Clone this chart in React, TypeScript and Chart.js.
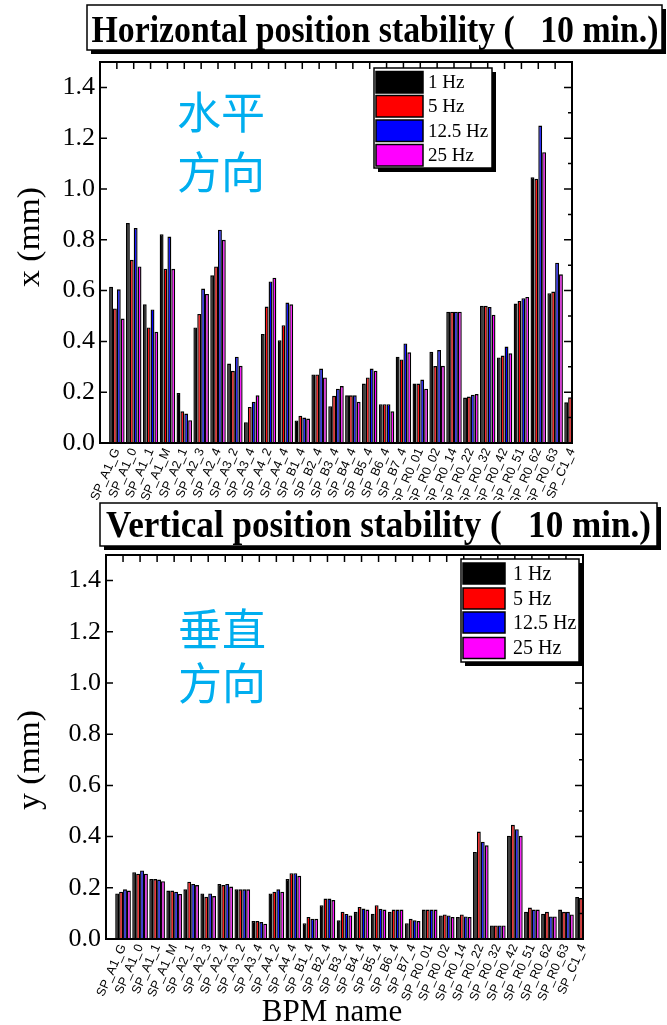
import React, { useEffect, useRef } from 'react';
import { Chart, registerables } from 'chart.js';

Chart.register(...registerables);

// ---------- data ----------
const bpmNames = [
  'SP_A1_G', 'SP_A1_0', 'SP_A1_1', 'SP_A1_M', 'SP_A2_1', 'SP_A2_3', 'SP_A2_4',
  'SP_A3_2', 'SP_A3_4', 'SP_A4_2', 'SP_A4_4', 'SP_B1_4', 'SP_B2_4', 'SP_B3_4',
  'SP_B4_4', 'SP_B5_4', 'SP_B6_4', 'SP_B7_4', 'SP_R0_01', 'SP_R0_02', 'SP_R0_14',
  'SP_R0_22', 'SP_R0_32', 'SP_R0_42', 'SP_R0_51', 'SP_R0_62', 'SP_R0_63', 'SP_C1_4',
];

const freqLabels = ['1 Hz', '5 Hz', '12.5 Hz', '25 Hz'];
const freqColors = ['#000000', '#ff0000', '#0000ff', '#ff00ff'];

// Horizontal (x, mm)
const horiz1Hz = [0.615, 0.866, 0.546, 0.822, 0.197, 0.455, 0.66, 0.313, 0.082, 0.429, 0.405, 0.089, 0.27, 0.145, 0.188, 0.234, 0.153, 0.34, 0.234, 0.359, 0.517, 0.179, 0.54, 0.337, 0.549, 1.046, 0.59, 0.16];
const horiz5Hz = [0.53, 0.721, 0.455, 0.686, 0.125, 0.508, 0.695, 0.284, 0.142, 0.537, 0.464, 0.107, 0.27, 0.186, 0.188, 0.258, 0.153, 0.329, 0.234, 0.303, 0.517, 0.183, 0.54, 0.344, 0.559, 1.04, 0.596, 0.18];
const horiz12Hz = [0.605, 0.846, 0.526, 0.813, 0.116, 0.608, 0.84, 0.34, 0.162, 0.636, 0.553, 0.1, 0.293, 0.214, 0.188, 0.293, 0.153, 0.392, 0.25, 0.366, 0.517, 0.19, 0.535, 0.38, 0.57, 1.25, 0.71, 0.17];
const horiz25Hz = [0.49, 0.695, 0.438, 0.686, 0.09, 0.587, 0.8, 0.304, 0.188, 0.651, 0.546, 0.096, 0.258, 0.224, 0.162, 0.284, 0.125, 0.357, 0.214, 0.304, 0.517, 0.193, 0.505, 0.353, 0.575, 1.145, 0.664, 0.165];

// Vertical (y, mm)
const vert1Hz = [0.178, 0.261, 0.234, 0.189, 0.194, 0.178, 0.215, 0.194, 0.07, 0.178, 0.234, 0.062, 0.132, 0.073, 0.106, 0.099, 0.106, 0.062, 0.115, 0.092, 0.086, 0.34, 0.053, 0.403, 0.106, 0.099, 0.115, 0.164];
const vert5Hz = [0.185, 0.255, 0.234, 0.189, 0.224, 0.165, 0.211, 0.194, 0.07, 0.185, 0.257, 0.086, 0.158, 0.106, 0.125, 0.132, 0.115, 0.079, 0.115, 0.096, 0.096, 0.42, 0.053, 0.446, 0.123, 0.106, 0.106, 0.16];
const vert12Hz = [0.194, 0.268, 0.232, 0.185, 0.215, 0.178, 0.215, 0.194, 0.066, 0.194, 0.257, 0.079, 0.158, 0.098, 0.119, 0.118, 0.115, 0.073, 0.115, 0.092, 0.088, 0.38, 0.053, 0.429, 0.115, 0.088, 0.106, 0.16];
const vert25Hz = [0.189, 0.255, 0.226, 0.176, 0.211, 0.168, 0.205, 0.194, 0.06, 0.185, 0.247, 0.079, 0.152, 0.092, 0.115, 0.115, 0.115, 0.07, 0.115, 0.086, 0.086, 0.366, 0.053, 0.403, 0.115, 0.088, 0.096, 0.16];

const yTickValues = [0, 0.2, 0.4, 0.6, 0.8, 1.0, 1.2, 1.4];
const yMinorValues = [0.1, 0.3, 0.5, 0.7, 0.9, 1.1, 1.3];

// ---------- layout / style config ----------
type Panel = {
  width: number;
  height: number;
  top: number;
  area: { left: number; right: number; top: number; bottom: number };
  series: number[][];
  title: string;
  titleBox: { x: number; y: number; w: number; h: number };
  titleText: { x: number; w: number; base: number };
  yTitle: string;
  yTitlePos: { x: number; y: number; len: number };
  cjk: string[];
  cjkPos: { x: number; ys: number[] };
  legend: { x: number; y: number; w: number; h: number; sx: number; sw: number; rows: number[]; rh: number; tx: number; font: number };
  xTitle?: { text: string; x: number; base: number };
};

const topPanel: Panel = {
  width: 667,
  height: 500,
  top: 0,
  area: { left: 100, right: 572, top: 62, bottom: 443 },
  series: [horiz1Hz, horiz5Hz, horiz12Hz, horiz25Hz],
  title: 'Horizontal position stability (   10 min.)',
  titleBox: { x: 87, y: 5, w: 575, h: 45 },
  titleText: { x: 91.5, w: 567, base: 42 },
  yTitle: 'x (mm)',
  yTitlePos: { x: 31, y: 237, len: 100 },
  cjk: ['水平', '方向'],
  cjkPos: { x: 177, ys: [112, 172] },
  legend: { x: 374, y: 68, w: 118, h: 100, sx: 376, sw: 47, rows: [71.5, 95.5, 120, 144.5], rh: 21.5, tx: 428, font: 19 },
};

const bottomPanel: Panel = {
  width: 667,
  height: 525,
  top: 500,
  area: { left: 106, right: 583, top: 55, bottom: 439 },
  series: [vert1Hz, vert5Hz, vert12Hz, vert25Hz],
  title: 'Vertical position stability (   10 min.)',
  titleBox: { x: 100, y: 3, w: 557, h: 43 },
  titleText: { x: 106, w: 545, base: 37 },
  yTitle: 'y (mm)',
  yTitlePos: { x: 31, y: 260, len: 100 },
  cjk: ['垂直', '方向'],
  cjkPos: { x: 178, ys: [129, 183] },
  legend: { x: 461, y: 59, w: 118, h: 103, sx: 463, sw: 42, rows: [63, 88, 112, 137.5], rh: 21, tx: 513, font: 20 },
  xTitle: { text: 'BPM name', x: 332, base: 521 },
};

const SERIF = '"Liberation Serif", "Times New Roman", serif';
const SANS = '"Liberation Sans", Arial, sans-serif';
const CJK = '"Noto Sans CJK SC", "Noto Sans CJK JP", sans-serif';

function drawShadowBox(ctx: CanvasRenderingContext2D, x: number, y: number, w: number, h: number, s: number) {
  ctx.fillStyle = '#000';
  ctx.fillRect(x + s, y + s, w, h);
  ctx.fillStyle = '#fff';
  ctx.fillRect(x, y, w, h);
  ctx.strokeStyle = '#000';
  ctx.lineWidth = 1.5;
  ctx.strokeRect(x, y, w, h);
}

function fitText(ctx: CanvasRenderingContext2D, text: string, x: number, y: number, targetW: number) {
  const m = ctx.measureText(text).width;
  const sx = targetW / m;
  ctx.save();
  ctx.translate(x, y);
  ctx.scale(sx, 1);
  ctx.fillText(text, 0, 0);
  ctx.restore();
}

function makeDecor(p: Panel) {
  return {
    id: 'decor',
    afterDatasetsDraw(chart: any) {
      const ctx: CanvasRenderingContext2D = chart.ctx;
      const a = chart.chartArea;
      const xs = chart.scales.x;
      const ys = chart.scales.y;
      ctx.save();
      // ticks (inward)
      ctx.strokeStyle = '#000';
      ctx.lineWidth = 1.5;
      ctx.beginPath();
      yTickValues.forEach((v) => {
        const y = ys.getPixelForValue(v);
        ctx.moveTo(a.left, y);
        ctx.lineTo(a.left + 7, y);
        ctx.moveTo(a.right, y);
        ctx.lineTo(a.right - 8, y);
      });
      yMinorValues.forEach((v) => {
        const y = ys.getPixelForValue(v);
        ctx.moveTo(a.right, y);
        ctx.lineTo(a.right - 4, y);
      });
      bpmNames.forEach((_, i) => {
        const x = xs.getPixelForValue(i + 1);
        if (x < a.right - 1) {
          ctx.moveTo(x, a.top);
          ctx.lineTo(x, a.top + 7);
        }
      });
      ctx.stroke();
      // frame
      ctx.lineWidth = 2;
      ctx.strokeRect(a.left, a.top, a.right - a.left, a.bottom - a.top);
      ctx.restore();
    },
    afterDraw(chart: any) {
      const ctx: CanvasRenderingContext2D = chart.ctx;
      ctx.save();
      // title box
      const tb = p.titleBox;
      drawShadowBox(ctx, tb.x, tb.y, tb.w, tb.h, 4);
      ctx.fillStyle = '#000';
      ctx.font = `bold 37px ${SERIF}`;
      ctx.textBaseline = 'alphabetic';
      ctx.textAlign = 'left';
      fitText(ctx, p.title, p.titleText.x, p.titleText.base, p.titleText.w);

      // y axis title
      ctx.save();
      ctx.translate(p.yTitlePos.x, p.yTitlePos.y);
      ctx.rotate(-Math.PI / 2);
      ctx.font = `32px ${SERIF}`;
      ctx.textBaseline = 'middle';
      fitText(ctx, p.yTitle, -p.yTitlePos.len / 2, 0, p.yTitlePos.len);
      ctx.restore();

      // CJK annotation
      ctx.fillStyle = '#00aeef';
      ctx.font = `44px ${CJK}`;
      ctx.textBaseline = 'middle';
      ctx.textAlign = 'left';
      p.cjk.forEach((line, i) => ctx.fillText(line, p.cjkPos.x, p.cjkPos.ys[i]));

      // legend
      const lg = p.legend;
      drawShadowBox(ctx, lg.x, lg.y, lg.w, lg.h, 4);
      freqLabels.forEach((lab, i) => {
        const ry = lg.rows[i];
        ctx.fillStyle = freqColors[i];
        ctx.fillRect(lg.sx, ry, lg.sw, lg.rh);
        ctx.strokeStyle = '#000';
        ctx.lineWidth = 1.5;
        ctx.strokeRect(lg.sx, ry, lg.sw, lg.rh);
        ctx.fillStyle = '#000';
        ctx.font = `${lg.font}px ${SERIF}`;
        ctx.textBaseline = 'middle';
        ctx.fillText(lab, lg.tx, ry + lg.rh / 2 + 1);
      });

      // x title
      if (p.xTitle) {
        ctx.fillStyle = '#000';
        ctx.font = `31px ${SERIF}`;
        ctx.textAlign = 'center';
        ctx.textBaseline = 'alphabetic';
        ctx.fillText(p.xTitle.text, p.xTitle.x, p.xTitle.base);
      }
      ctx.restore();
    },
  };
}

function PanelChart({ p }: { p: Panel }) {
  const ref = useRef<HTMLCanvasElement | null>(null);
  useEffect(() => {
    if (!ref.current) return;
    const a = p.area;
    const chart = new Chart(ref.current, {
      type: 'bar',
      data: {
        datasets: p.series.map((vals, k) => ({
          label: freqLabels[k],
          data: vals.map((v, i) => ({ x: i + 1, y: v })),
          backgroundColor: freqColors[k],
          borderColor: '#000',
          borderWidth: 1.4,
          categoryPercentage: 0.92,
          barPercentage: 1.0,
        })),
      },
      options: {
        animation: false,
        responsive: false,
        maintainAspectRatio: false,
        layout: { padding: { left: 0, right: p.width - a.right, top: a.top, bottom: 0 } },
        plugins: {
          legend: { display: false },
          tooltip: { enabled: false },
          title: { display: false },
        },
        scales: {
          x: {
            type: 'linear',
            min: 0,
            max: 28,
            offset: false,
            grid: { display: false, drawTicks: false },
            border: { display: false },
            afterBuildTicks: (s: any) => {
              s.ticks = bpmNames.map((_, i) => ({ value: i + 1 }));
            },
            afterFit: (s: any) => {
              s.height = p.height - a.bottom;
            },
            ticks: {
              autoSkip: false,
              minRotation: 66,
              maxRotation: 66,
              padding: 3,
              color: '#000',
              font: { family: SANS, size: 12.5 },
              callback: (v: any) => bpmNames[Math.round(Number(v)) - 1] ?? '',
            },
          },
          y: {
            min: 0,
            max: 1.5,
            grid: { display: false, drawTicks: false },
            border: { display: false },
            afterBuildTicks: (s: any) => {
              s.ticks = yTickValues.map((v) => ({ value: v }));
            },
            afterFit: (s: any) => {
              s.width = a.left;
            },
            ticks: {
              padding: 5,
              color: '#000',
              font: { family: SERIF, size: 26 },
              callback: (v: any) => Number(v).toFixed(1),
            },
          },
        },
      } as any,
      plugins: [makeDecor(p)],
    });
    return () => chart.destroy();
  }, [p]);
  return (
    <canvas
      ref={ref}
      width={p.width}
      height={p.height}
      style={{ position: 'absolute', left: 0, top: p.top, width: p.width, height: p.height, display: 'block' }}
    />
  );
}

export default function App() {
  return (
    <div style={{ position: 'fixed', left: 0, top: 0, width: 667, height: 1025, background: '#fff', overflow: 'hidden' }}>
      <PanelChart p={topPanel} />
      <PanelChart p={bottomPanel} />
    </div>
  );
}
